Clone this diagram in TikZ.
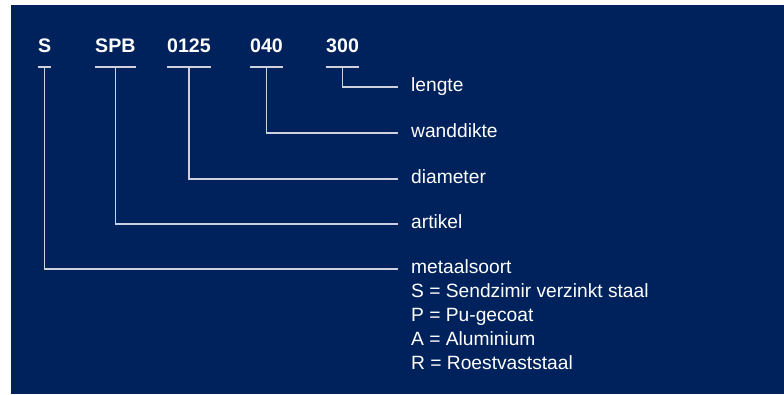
\documentclass[tikz,border=0pt]{standalone}
\usepackage{fontspec}
\setmainfont{Liberation Sans}
\definecolor{navy}{RGB}{0,34,92}
\definecolor{rule}{RGB}{205,209,222}
\begin{document}
\begin{tikzpicture}[x=1pt,y=-1pt,
  code/.style={anchor=base west,inner sep=0pt,text=white,font=\fontsize{19.6}{23}\selectfont\bfseries},
  lbl/.style={anchor=base west,inner sep=0pt,text=white,font=\fontsize{19.2}{23}\selectfont},
  lead/.style={draw=rule,line width=1.5pt},
  ]
\useasboundingbox (0,0) rectangle (784,394);
\fill[navy] (11,5) rectangle (784,394);

% code segments
\node[code] (cS)   at (38,52)  {S};
\node[code] (cSPB) at (95,52)  {SPB};
\node[code] (cD)   at (167,52) {0125};
\node[code] (cW)   at (250,52) {040};
\node[code] (cL)   at (326,52) {300};

% explanations
\node[lbl] (lL) at (411,91)  {lengte};
\node[lbl] (lW) at (411,137) {wanddikte};
\node[lbl] (lD) at (411,183) {diameter};
\node[lbl] (lA) at (411,228) {artikel};
\node[lbl] (lM) at (411,273) {metaalsoort};
\node[lbl] (m1) at (411,297) {S = Sendzimir verzinkt staal};
\node[lbl] (m2) at (411,321) {P = Pu-gecoat};
\node[lbl] (m3) at (411,345) {A = Aluminium};
\node[lbl] (m4) at (411,369) {R = Roestvaststaal};

\coordinate (bar) at (0,67);

% bars under each code and leaders to the explanations
\foreach \c/\l in {cS/lM, cSPB/lA, cD/lD, cW/lW, cL/lL}{
  \draw[lead] (\c.west |- bar) -- (\c.east |- bar);
  \draw[lead] (\c.center |- bar) |- ([shift={(-13pt,4pt)}]\l.base west);
}
\end{tikzpicture}
\end{document}
